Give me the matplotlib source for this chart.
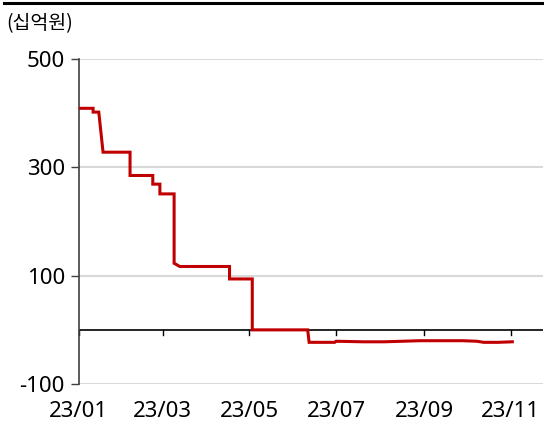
import numpy as np
import matplotlib
matplotlib.use('Agg')
import matplotlib.pyplot as plt
import matplotlib.dates as mdates
from matplotlib.lines import Line2D
import pandas as pd

plt.rcParams['font.family'] = ['Noto Sans', 'Noto Sans CJK KR', 'DejaVu Sans']
plt.rcParams['axes.unicode_minus'] = False

# 일자 (2023-01-01 기준 경과일) 와 값 (십억원)
days = [0, 10, 10, 14, 17, 36, 36, 52, 52, 57, 57, 67, 67, 71, 106, 106, 122, 122,
        161, 162, 180, 181, 200, 215, 240, 255, 270, 280, 285, 295, 305]
values = [409, 409, 402, 402, 328, 328, 285, 285, 269, 269, 251, 251, 123, 117, 117, 94, 94, 0,
          0, -23, -23, -21, -22, -22, -20, -20, -20, -21, -23, -23, -22]
tick_labels = ['23/01', '23/03', '23/05', '23/07', '23/09', '23/11']
tick_dates = ['2023-01-01', '2023-03-01', '2023-05-01', '2023-07-01', '2023-09-01', '2023-11-01']
yticks = [-100, 100, 300, 500]

x = pd.Timestamp('2023-01-01') + pd.to_timedelta(days, unit='D')

fig = plt.figure(figsize=(5.44, 4.32), dpi=100)
ax = fig.add_axes([0.145, 0.111, 0.853, 0.7524])

ax.plot(x, values, color='#c00000', lw=2.2, solid_joinstyle='miter', zorder=3)

ax.set_ylim(-100, 500)
ax.set_yticks(yticks)
ax.set_xlim(pd.Timestamp('2023-01-01'), pd.Timestamp('2023-01-01') + pd.Timedelta(days=326.5))
ax.set_xticks(pd.to_datetime(tick_dates))
ax.set_xticklabels(tick_labels)

for v in yticks:
    ax.axhline(v, color='#d9d9d9', lw=1.5, zorder=1)
ax.axhline(0, color='black', lw=1.2, zorder=2)

# x축 눈금 (0 위치)
for d in tick_dates:
    ax.plot([pd.Timestamp(d)] * 2, [0, -10], color='black', lw=1.0, clip_on=False, zorder=2)

for s in ['top', 'right', 'bottom']:
    ax.spines[s].set_visible(False)
ax.spines['left'].set_color('#404040')
ax.spines['left'].set_linewidth(1.2)

ax.tick_params(axis='y', length=6, width=1.0, color='#404040', labelsize=16, pad=4,
               labelcolor='black')
ax.tick_params(axis='x', length=0, labelsize=16, pad=12)

fig.text(0.012, 0.932, '(십억원)', fontsize=14, family=['Noto Sans CJK KR'])
fig.add_artist(Line2D([0.008, 1.0], [0.992, 0.992], color='black', lw=2.2, transform=fig.transFigure))

plt.savefig('out.png', dpi=100)
